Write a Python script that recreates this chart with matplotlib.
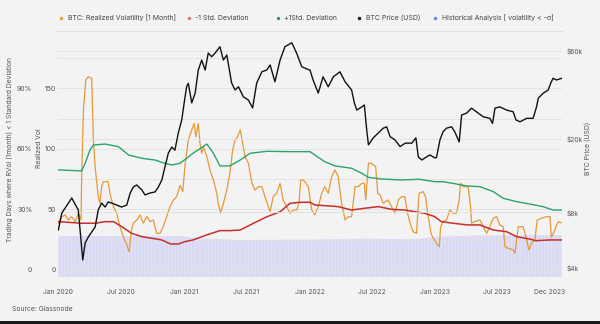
import matplotlib
matplotlib.use('Agg')
import matplotlib.pyplot as plt
import pandas as pd
from matplotlib.lines import Line2D
from matplotlib.patches import Rectangle
from matplotlib.ticker import NullLocator

plt.rcParams['font.family'] = ['Inter', 'DejaVu Sans']
plt.rcParams['hatch.linewidth'] = 0.5

# ---------------- data ----------------
price_dates = [
    '2020-01-01', '2020-01-11', '2020-02-09', '2020-02-28', '2020-03-12', '2020-03-19', '2020-03-28', '2020-04-07', '2020-04-17', '2020-04-26',
    '2020-05-06', '2020-05-16', '2020-05-25', '2020-06-04', '2020-07-03', '2020-07-18', '2020-07-28', '2020-08-06', '2020-08-16', '2020-08-31',
    '2020-09-09', '2020-09-24', '2020-10-08', '2020-10-18', '2020-10-28', '2020-11-06', '2020-11-16', '2020-11-26', '2020-12-05', '2020-12-15',
    '2020-12-25', '2021-01-01', '2021-01-08', '2021-01-13', '2021-01-23', '2021-02-02', '2021-02-11', '2021-02-21', '2021-03-03', '2021-03-12',
    '2021-03-22', '2021-04-01', '2021-04-15', '2021-04-25', '2021-05-05', '2021-05-19', '2021-05-29', '2021-06-08', '2021-06-22', '2021-07-07',
    '2021-07-19', '2021-07-31', '2021-08-15', '2021-08-29', '2021-09-08', '2021-09-22', '2021-10-07', '2021-10-21', '2021-11-10', '2021-11-24',
    '2021-12-09', '2021-12-23', '2022-01-02', '2022-01-11', '2022-01-26', '2022-02-09', '2022-02-24', '2022-03-11', '2022-03-30', '2022-04-14',
    '2022-05-03', '2022-05-11', '2022-05-18', '2022-06-02', '2022-06-09', '2022-06-16', '2022-06-21', '2022-07-05', '2022-07-20', '2022-08-03',
    '2022-08-13', '2022-08-23', '2022-09-06', '2022-09-21', '2022-10-06', '2022-10-25', '2022-11-06', '2022-11-13', '2022-11-23', '2022-12-07',
    '2022-12-17', '2022-12-31', '2023-01-05', '2023-01-15', '2023-01-24', '2023-02-03', '2023-02-18', '2023-02-27', '2023-03-12', '2023-03-19',
    '2023-04-02', '2023-04-17', '2023-05-01', '2023-05-21', '2023-06-09', '2023-06-17', '2023-06-24', '2023-07-08', '2023-07-28', '2023-08-16',
    '2023-08-24', '2023-09-05', '2023-09-24', '2023-10-13', '2023-10-23', '2023-10-28', '2023-11-11', '2023-11-26', '2023-12-03', '2023-12-10',
    '2023-12-20', '2024-01-04',
]
price_usd = [
    6430, 7940, 9580, 8250, 4420, 5460, 5890, 6270, 6670, 8250,
    9000, 8560, 9120, 9000, 8560, 8780, 10200, 10990, 11270, 10600,
    9960, 10200, 10330, 10990, 12000, 14100, 16800, 18100, 17400, 21600,
    25400, 31400, 38400, 40100, 31400, 35500, 47300, 53600, 47300, 58500,
    55900, 58500, 63300, 53600, 57100, 40300, 36900, 38400, 33900, 32500,
    29500, 40300, 46300, 47300, 50400, 40900, 53600, 63300, 66500, 58500,
    49300, 48000, 47300, 41800, 35500, 43500, 38400, 43500, 46300, 40900,
    36900, 31400, 28700, 29900, 30600, 22400, 18600, 20300, 21600, 22900,
    23300, 20600, 19800, 18200, 19000, 19000, 20300, 16000, 15400, 16000,
    16400, 15800, 15900, 19800, 21900, 22900, 23300, 21900, 19300, 27000,
    27600, 29400, 28100, 26400, 25900, 24300, 29400, 29900, 28700, 28100,
    25400, 24800, 25900, 25900, 29900, 33300, 35400, 36900, 40100, 42700,
    41800, 42700,
]

vol_dates = [
    '2020-01-01', '2020-01-11', '2020-01-21', '2020-01-30', '2020-02-09', '2020-02-19', '2020-02-28', '2020-03-07', '2020-03-09', '2020-03-14',
    '2020-03-21', '2020-03-28', '2020-04-07', '2020-04-12', '2020-04-17', '2020-04-22', '2020-04-26', '2020-05-01', '2020-05-06', '2020-05-11',
    '2020-05-21', '2020-05-25', '2020-05-30', '2020-06-04', '2020-06-09', '2020-06-19', '2020-06-28', '2020-07-08', '2020-07-18', '2020-07-25',
    '2020-07-31', '2020-08-06', '2020-08-16', '2020-08-26', '2020-09-04', '2020-09-14', '2020-09-24', '2020-10-03', '2020-10-13', '2020-10-23',
    '2020-11-01', '2020-11-11', '2020-11-21', '2020-12-01', '2020-12-10', '2020-12-20', '2020-12-28', '2021-01-03', '2021-01-13', '2021-01-23',
    '2021-01-30', '2021-02-04', '2021-02-11', '2021-02-16', '2021-02-21', '2021-02-26', '2021-03-08', '2021-03-17', '2021-03-27', '2021-04-06',
    '2021-04-10', '2021-04-17', '2021-04-25', '2021-05-05', '2021-05-14', '2021-05-22', '2021-05-29', '2021-06-05', '2021-06-13', '2021-06-17',
    '2021-06-27', '2021-07-07', '2021-07-17', '2021-07-26', '2021-08-05', '2021-08-15', '2021-08-24', '2021-09-03', '2021-09-08', '2021-09-17',
    '2021-09-27', '2021-10-07', '2021-10-16', '2021-10-26', '2021-11-05', '2021-11-15', '2021-11-24', '2021-12-01', '2021-12-06', '2021-12-13',
    '2021-12-18', '2021-12-28', '2022-01-07', '2022-01-16', '2022-01-26', '2022-02-05', '2022-02-14', '2022-02-24', '2022-03-06', '2022-03-16',
    '2022-03-25', '2022-04-04', '2022-04-14', '2022-04-23', '2022-05-03', '2022-05-13', '2022-05-22', '2022-06-02', '2022-06-09', '2022-06-13',
    '2022-06-21', '2022-06-30', '2022-07-12', '2022-07-18', '2022-07-25', '2022-08-03', '2022-08-17', '2022-08-27', '2022-09-06', '2022-09-16',
    '2022-09-25', '2022-10-05', '2022-10-13', '2022-10-20', '2022-10-29', '2022-11-08', '2022-11-15', '2022-11-27', '2022-12-04', '2022-12-12',
    '2022-12-20', '2022-12-26', '2023-01-05', '2023-01-13', '2023-01-17', '2023-01-24', '2023-02-03', '2023-02-13', '2023-02-22', '2023-03-04',
    '2023-03-12', '2023-03-16', '2023-03-24', '2023-04-07', '2023-04-14', '2023-04-17', '2023-04-26', '2023-05-11', '2023-05-21', '2023-05-31',
    '2023-06-09', '2023-06-19', '2023-06-29', '2023-07-08', '2023-07-18', '2023-07-23', '2023-08-02', '2023-08-16', '2023-08-21', '2023-08-31',
    '2023-09-14', '2023-09-22', '2023-10-01', '2023-10-08', '2023-10-18', '2023-10-25', '2023-11-06', '2023-11-21', '2023-12-01', '2023-12-05',
    '2023-12-15', '2023-12-25', '2024-01-04',
]
vol_values = [
    38.6, 44, 45.4, 41.3, 44, 39.9, 46.8, 41.3, 79.8, 132,
    157, 159.6, 158.3, 107, 85.3, 71.6, 60.5, 55, 68.8, 72.9,
    72.9, 72.9, 63.3, 57.8, 52.3, 46.8, 35.8, 27.5, 20.6, 15.1,
    31.6, 38.6, 41.3, 45.4, 38.6, 44, 39.9, 41.3, 30.3, 30.3,
    35.8, 44, 52.3, 57.8, 60.5, 70, 64.7, 85.3, 107.3, 115.6,
    121.1, 110, 121, 104.6, 96.4, 101.8, 93.6, 82.6, 74.3, 63.3,
    55, 46.8, 55, 66, 79.8, 99, 107.3, 110, 115.6, 110,
    93.6, 88.1, 71.6, 66, 68.8, 68.8, 60.5, 52.3, 48.1, 60.5,
    63.3, 71.6, 57.8, 52.3, 46.8, 49.5, 49.5, 55, 74.3, 74.3,
    72.9, 68.8, 49.5, 45.4, 52.3, 63.3, 68.8, 63.3, 77, 82.6,
    77, 55, 41.3, 44, 44, 68.8, 68.8, 71.6, 71.6, 57.8,
    88.1, 88.1, 85.3, 63.3, 61.9, 55, 57.8, 52.3, 46.8, 57.8,
    60.5, 60.5, 46.8, 38.6, 31.6, 30.3, 63.3, 64.7, 60.5, 44,
    30.3, 26.5, 22, 19.2, 35.8, 39.9, 41.3, 49.5, 46.8, 46.8,
    57.8, 71.6, 68.8, 68.8, 52.3, 38.6, 39.9, 41.3, 35.8, 30.3,
    35.8, 42.7, 44, 37.2, 35.8, 19.2, 17.9, 16.5, 13.8, 35.8,
    35.8, 27.5, 16.5, 22, 24.8, 41.3, 42.7, 44, 44, 27,
    33, 39.9, 39,
]

lower_dates = [
    '2020-01-01', '2020-03-09', '2020-04-17', '2020-05-16', '2020-06-10', '2020-07-03', '2020-08-01', '2020-08-31', '2020-09-29', '2020-10-28',
    '2020-11-22', '2020-12-16', '2021-01-03', '2021-01-27', '2021-03-07', '2021-04-15', '2021-05-14', '2021-06-13', '2021-07-22', '2021-08-30',
    '2021-10-07', '2021-11-05', '2021-12-04', '2022-01-02', '2022-01-16', '2022-02-14', '2022-03-25', '2022-05-03', '2022-06-11', '2022-07-20',
    '2022-08-27', '2022-10-05', '2022-11-03', '2022-12-02', '2022-12-31', '2023-01-19', '2023-02-22', '2023-04-05', '2023-05-11', '2023-06-19',
    '2023-07-28', '2023-08-26', '2023-10-02', '2023-10-21', '2023-12-01', '2024-01-04',
]
lower_values = [
    39.9, 38.6, 38.6, 39.9, 39.9, 35.8, 30.3, 27.5, 26.2, 24.8,
    21.5, 21.5, 23.4, 24.8, 28.9, 32.5, 32.5, 33, 38.6, 44,
    48.1, 55, 55.9, 55.9, 53.7, 53.1, 52.3, 49.5, 51, 52.3,
    50.1, 49.5, 48.1, 46.8, 44, 39.9, 38.6, 37.2, 37.2, 33,
    31.6, 27.5, 25.6, 24.2, 24.8, 24.8,
]

upper_dates = [
    '2020-01-01', '2020-03-09', '2020-03-19', '2020-04-02', '2020-04-12', '2020-05-16', '2020-06-24', '2020-07-23', '2020-08-31', '2020-10-08',
    '2020-11-06', '2020-11-26', '2020-12-20', '2021-01-27', '2021-03-08', '2021-03-27', '2021-04-15', '2021-05-14', '2021-06-13', '2021-07-12',
    '2021-08-30', '2021-11-05', '2022-01-02', '2022-01-16', '2022-02-14', '2022-03-16', '2022-05-03', '2022-06-02', '2022-06-21', '2022-07-30',
    '2022-09-25', '2022-11-15', '2022-12-31', '2023-01-24', '2023-03-04', '2023-04-02', '2023-05-11', '2023-06-19', '2023-07-18', '2023-08-26',
    '2023-10-02', '2023-11-11', '2023-12-10', '2024-01-04',
]
upper_values = [
    82.6, 81.8, 88.1, 99, 103.2, 104, 101.8, 95, 92.2, 90.8,
    88.1, 86.7, 88.1, 96.4, 104, 96.4, 85.9, 85.9, 90.8, 96.4,
    98, 97.7, 97.7, 95, 89.4, 85.9, 84, 79.8, 76.5, 75.1,
    74.3, 74.9, 72.9, 72.9, 71, 69.4, 68.8, 64.7, 59.2, 56.4,
    54.5, 52.3, 49.5, 49.5,
]

hist_dates = ['2020-01-01', '2020-12-20', '2021-02-15', '2021-06-01', '2022-01-01',
              '2022-06-01', '2022-11-01', '2023-01-01', '2023-06-01', '2024-01-04']
hist_pct = [16.8, 16.8, 15.7, 14.9, 15.0, 15.5, 15.2, 16.4, 17.2, 17.3]

vol_ticks = [0, 50, 100, 150]
vol_labels = ['0', '50', '100', '150']
vol_grid = [25, 75, 125, 175]
pct_ticks = [0, 30, 60, 90]
pct_labels = ['0', '30%', '60%', '90%']
price_ticks = [4000, 8000, 20000, 60000]
price_labels = ['$4k', '$8k', '$20k', '$60k']
x_tick_dates = ['2020-01-01', '2020-07-01', '2021-01-01', '2021-07-01', '2022-01-01',
                '2022-07-01', '2023-01-01', '2023-07-01', '2023-12-01']
x_tick_labels = ['Jan 2020', 'Jul 2020', 'Jan 2021', 'Jul 2021', 'Jan 2022',
                 'Jul 2022', 'Jan 2023', 'Jul 2023', 'Dec 2023']
legend_labels = ['BTC: Realized Volatility [1 Month]', '-1 Std. Deviation', '+1Std. Deviation',
                 'BTC Price (USD)', 'Historical Analysis [ volatility < -σ]']

# ---------------- style ----------------
BG = '#f3f3f3'
GRID = '#e0e0e0'
TXT = '#555555'
ORANGE = '#e59a3a'
RED = '#c42f2c'
GREEN = '#2aa46c'
BLACK = '#111111'
LAV = '#d9d9f4'
legend_colors = [ORANGE, '#d9706c', '#2e9a58', '#000000', '#5c7fd8']

W, H = 600, 324
fig = plt.figure(figsize=(6, 3.24), dpi=100, facecolor=BG)


def fx(px):
    return px / W


def fy(py):
    return 1 - py / H


rect = [fx(58), fy(277), 504 / W, 237 / H]
VOL_LO, VOL_HI = -5.8, 189.9
PCT_PER_VOL = 0.6
PRICE_LO, PRICE_HI = 3575, 68840
X_LO, X_HI = pd.Timestamp('2019-12-31'), pd.Timestamp('2024-01-05')

ax_pct = fig.add_axes(rect)
ax_pct.set_facecolor(BG)
ax_vol = fig.add_axes(rect, sharex=ax_pct)
ax_vol.set_facecolor('none')
ax_price = ax_vol.twinx()
ax_price.set_facecolor('none')

for a in (ax_pct, ax_vol, ax_price):
    for s in a.spines.values():
        s.set_visible(False)

ax_pct.set_xlim(X_LO, X_HI)

# percent axis (historical analysis bars)
pct_lo, pct_hi = VOL_LO * PCT_PER_VOL, VOL_HI * PCT_PER_VOL
ax_pct.set_ylim(pct_lo, pct_hi)
ax_pct.fill_between(pd.to_datetime(hist_dates), hist_pct, pct_lo,
                    facecolor=LAV, edgecolor='#e9e9f9', hatch='|||||', linewidth=0)
ax_pct.set_yticks(pct_ticks, labels=pct_labels)
ax_pct.tick_params(axis='y', length=0, pad=18.5, labelsize=5, labelcolor=TXT)
ax_pct.tick_params(axis='x', bottom=False, labelbottom=False)

# volatility axis
ax_vol.set_ylim(VOL_LO, VOL_HI)
ax_vol.set_yticks(vol_ticks, labels=vol_labels)
ax_vol.set_yticks(vol_grid, minor=True)
ax_vol.grid(True, which='both', axis='y', color=GRID, linewidth=0.6)
ax_vol.tick_params(axis='y', which='both', length=0, pad=1.2, labelsize=5, labelcolor=TXT)
ax_vol.set_xticks(pd.to_datetime(x_tick_dates), labels=x_tick_labels)
ax_vol.tick_params(axis='x', length=0, pad=9, labelsize=4.8, labelcolor=TXT)

ax_vol.plot(pd.to_datetime(vol_dates), vol_values, color=ORANGE, linewidth=0.9)
ax_vol.plot(pd.to_datetime(lower_dates), lower_values, color=RED, linewidth=1.1)
ax_vol.plot(pd.to_datetime(upper_dates), upper_values, color=GREEN, linewidth=1.0)

# price axis (log)
ax_price.set_yscale('log')
ax_price.set_ylim(PRICE_LO, PRICE_HI)
ax_price.set_yticks(price_ticks, labels=price_labels)
ax_price.yaxis.set_minor_locator(NullLocator())
ax_price.grid(True, axis='y', color=GRID, linewidth=0.6)
ax_price.tick_params(axis='y', length=0, pad=3, labelsize=4.8, labelcolor=TXT)
ax_price.plot(pd.to_datetime(price_dates), price_usd, color=BLACK, linewidth=1.0)

# axis titles
fig.text(fx(10), fy(150), 'Trading Days where RVol (1month) < 1 Standard Deviation',
         rotation=90, ha='center', va='center', fontsize=4.9, color=TXT)
fig.text(fx(39.5), fy(148), 'Realized Vol', rotation=90, ha='center', va='center',
         fontsize=4.9, color=TXT)
fig.text(fx(588), fy(148), 'BTC Price (USD)', rotation=90, ha='center', va='center',
         fontsize=4.9, color=TXT)

# legend
leg_dot_x = [61, 189, 278, 359, 435]
for xd, lab, col in zip(leg_dot_x, legend_labels, legend_colors):
    fig.add_artist(Line2D([fx(xd)], [fy(18)], marker='o', markersize=2.4, color=col,
                          markeredgewidth=0, transform=fig.transFigure))
    fig.text(fx(xd + 6.5), fy(18), lab, ha='left', va='center', fontsize=5, color='#444444')
fig.add_artist(Line2D([fx(56), fx(563)], [fy(31), fy(31)], color='#dddddd', linewidth=0.6,
                      transform=fig.transFigure))

fig.text(fx(12), fy(309), 'Source: Glassnode', ha='left', va='center', fontsize=4.9, color=TXT)

# bottom border band
fig.add_artist(Rectangle((0, 0), 1, 3 / H, transform=fig.transFigure, color='#1a1a1a', linewidth=0))

fig.savefig('out.png', dpi=100, facecolor=BG)
